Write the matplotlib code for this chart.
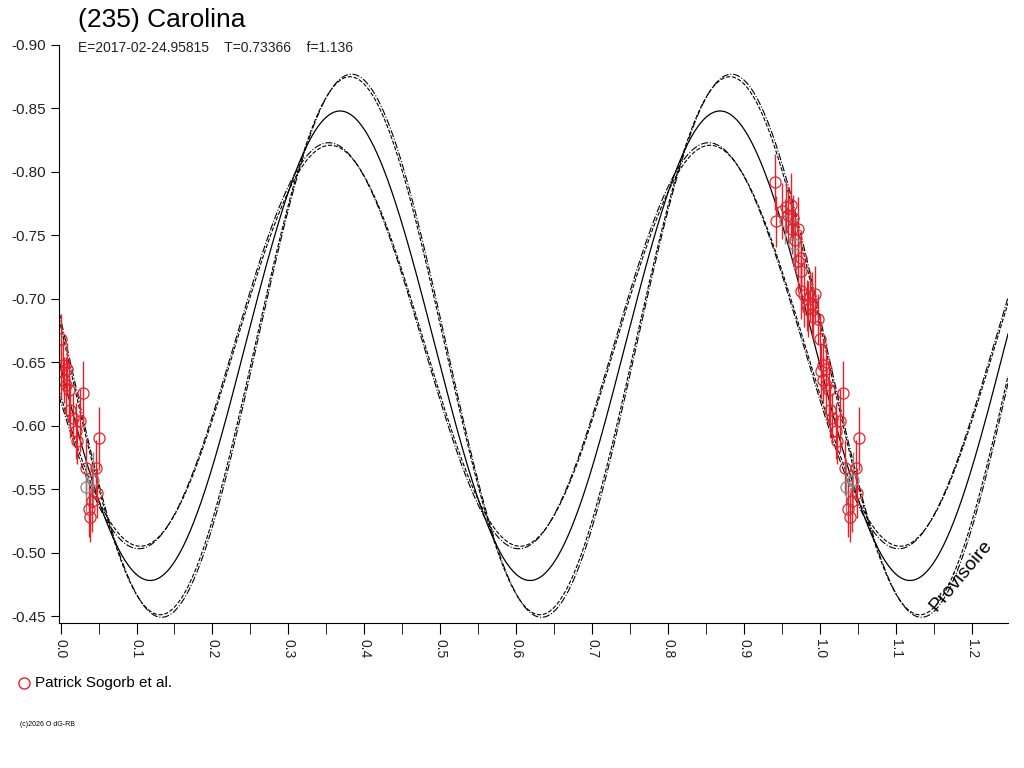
import numpy as np
import matplotlib
matplotlib.use("Agg")
import matplotlib.pyplot as plt

plt.rcParams['font.family'] = ['Liberation Sans', 'DejaVu Sans']

# observed data (phase, reduced mag, error, gray flag)
phase = [0.941, 0.942, 0.949, 0.953, 0.955, 0.958, 0.961, 0.963, 0.964, 0.967, 0.970, 0.965,
         0.971, 0.974, 0.974, 0.975, 0.979, 0.982, 0.984, 0.987, 0.989, 0.991, 0.993, 0.997,
         1.000, 1.001, 1.003, 1.004, 1.007, 1.008, 1.011, 1.013, 1.016, 1.020, 1.022, 1.026,
         1.030, 1.033, 1.034, 1.037, 1.039, 1.042, 1.047, 1.048, 1.051, 1.043]
mag = [-0.792, -0.761, -0.769, -0.761, -0.772, -0.766, -0.774, -0.755, -0.764, -0.746, -0.755, -0.743,
       -0.730, -0.732, -0.722, -0.706, -0.703, -0.695, -0.692, -0.702, -0.696, -0.686, -0.704, -0.684,
       -0.668, -0.643, -0.648, -0.636, -0.632, -0.645, -0.628, -0.612, -0.606, -0.596, -0.588, -0.604,
       -0.626, -0.567, -0.552, -0.534, -0.528, -0.541, -0.567, -0.547, -0.590, -0.557]
err = [0.022, 0.020, 0.022, 0.018, 0.020, 0.022, 0.025, 0.020, 0.018, 0.022, 0.025, 0.020,
       0.025, 0.022, 0.020, 0.022, 0.025, 0.020, 0.022, 0.020, 0.025, 0.018, 0.022, 0.020,
       0.020, 0.022, 0.020, 0.018, 0.022, 0.020, 0.025, 0.022, 0.020, 0.022, 0.018, 0.025,
       0.025, 0.022, 0.020, 0.022, 0.020, 0.025, 0.022, 0.020, 0.025, 0.022]
gray = [3, 11, 38, 45]

# model parameters: mean, amplitude, phase of maximum brightness
model_mean = -0.663
solid_amp, solid_c = 0.185, 0.368
outer_amp = [0.212, 0.214, 0.158, 0.160]
outer_c = [0.381, 0.383, 0.355, 0.353]
outer_ls = ['--', '-.', '--', '-.']

xlim = (-0.002, 1.247)
ylim = (-0.4445, -0.90)

fig = plt.figure(figsize=(10.24, 7.68), dpi=100)
ax = fig.add_axes([59/1024, 1-623/768, (1008-59)/1024, (623-45)/768])

x = np.linspace(xlim[0], xlim[1], 1200)
ax.plot(x, model_mean - solid_amp*np.cos(4*np.pi*(x-solid_c)), color='black', lw=0.9)
for a, c, ls in zip(outer_amp, outer_c, outer_ls):
    ax.plot(x, model_mean - a*np.cos(4*np.pi*(x-c)), color='black', lw=0.8, ls=ls)

for i, (p, m, e) in enumerate(zip(phase, mag, err)):
    col = '#888888' if i in gray else '#e8202a'
    for pp in (p, p-1.0, p+1.0):
        if xlim[0] <= pp <= xlim[1]:
            ax.errorbar(pp, m, yerr=e, fmt='o', mfc='none', mec=col, ecolor=col,
                        ms=8, mew=0.9, elinewidth=1.0, capsize=0)

ax.set_xlim(*xlim)
ax.set_ylim(*ylim)
ax.spines['top'].set_visible(False)
ax.spines['right'].set_visible(False)
ax.set_xticks(np.arange(0, 1.21, 0.1))
ax.set_xticks(np.arange(0.05, 1.25, 0.1), minor=True)
ax.set_xticklabels([f"{v:.1f}" for v in np.arange(0, 1.21, 0.1)], rotation=270, fontsize=10, color='#222')
ax.set_yticks(np.arange(-0.90, -0.449, 0.05))
ax.set_yticklabels([f"{v:.2f}" for v in np.arange(-0.90, -0.449, 0.05)], fontsize=11, color='#222')
ax.tick_params(axis='x', which='both', direction='out', length=8)
ax.tick_params(axis='y', direction='out', length=6)

ax.text(1.185, -0.482, 'Provisoire', rotation=50, fontsize=14, ha='center', va='center')

fig.text(78/1024, 1-20/768, '(235) Carolina', fontsize=19, va='center')
fig.text(78/1024, 1-48/768, 'E=2017-02-24.95815    T=0.73366    f=1.136', fontsize=10, va='center', color='#222')
fig.add_artist(plt.Line2D([24/1024], [1-683/768], marker='o', mfc='none', mec='#e8202a', ms=8, transform=fig.transFigure))
fig.text(35/1024, 1-683/768, 'Patrick Sogorb et al.', fontsize=11, va='center')
fig.text(20/1024, 1-725/768, '(c)2026 O dG-RB', fontsize=5, va='center')

fig.savefig('out.png', dpi=100)
